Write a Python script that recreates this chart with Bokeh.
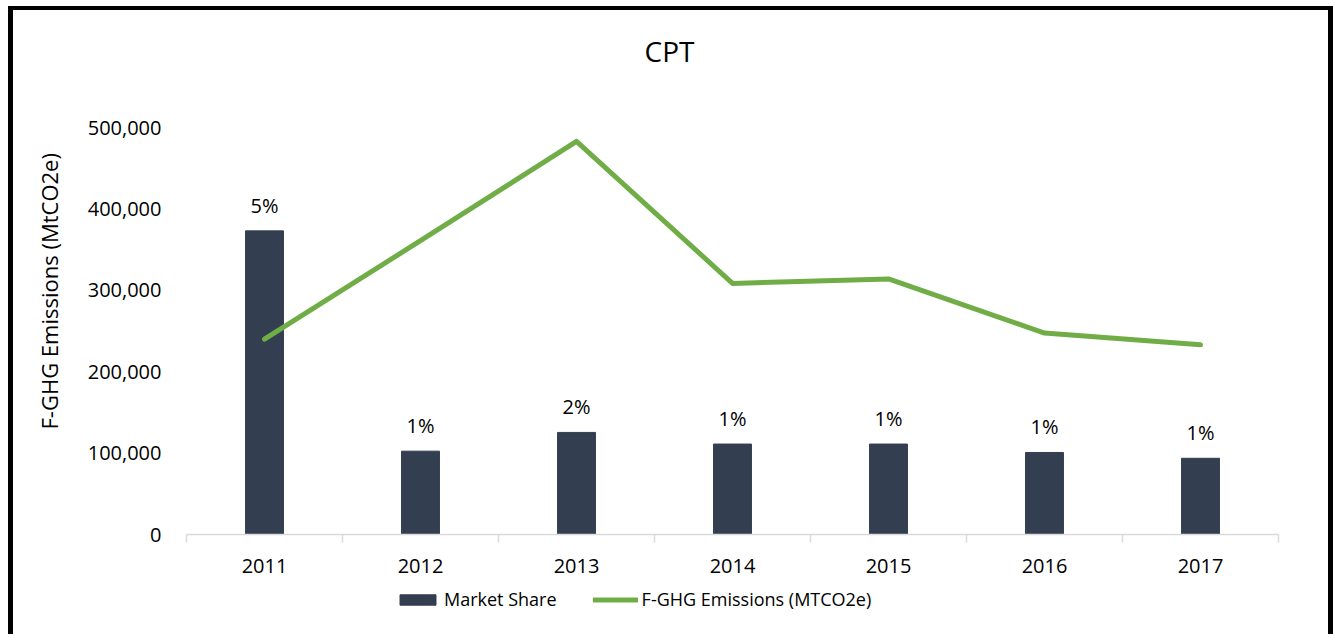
from bokeh.plotting import figure
from bokeh.layouts import column
from bokeh.models import (Range1d, FixedTicker, ColumnDataSource, LabelSet, Label, Title,
                          Legend, LegendItem, NumeralTickFormatter)
from bokeh.embed import file_html
from bokeh.resources import INLINE
from bokeh.core.properties import value

# ---- data ----
years = ["2011", "2012", "2013", "2014", "2015", "2016", "2017"]
market_share_pct = [4.70, 1.29, 1.58, 1.40, 1.40, 1.27, 1.18]
emissions = [240000, 361000, 483000, 308500, 314000, 247500, 233000]
y_ticks = [0, 100000, 200000, 300000, 400000, 500000]
share_axis_max = 6.3

FONT = "Open Sans"
BAR = "#333F50"
GREEN = "#70AD47"
W = 1315
FRAME_LEFT = 172

xs = [i + 0.5 for i in range(len(years))]
src = ColumnDataSource(dict(
    x=xs, year=years, share=market_share_pct, em=emissions,
    label=[f"{round(v)}%" for v in market_share_pct],
))


def blank(h):
    f = figure(width=W, height=h, output_backend="svg", toolbar_location=None,
               x_axis_type=None, y_axis_type=None,
               x_range=Range1d(0, 1), y_range=Range1d(0, 1),
               min_border=0, min_border_left=0, min_border_right=0,
               min_border_top=0, min_border_bottom=0)
    f.outline_line_color = None
    f.background_fill_color = "white"
    f.border_fill_color = "white"
    return f


# ---- title strip ----
TH = 70
tfig = blank(TH)
tfig.add_layout(Label(x=655 - FRAME_LEFT, y=TH - 40, x_units="screen", y_units="screen",
                      text="CPT", text_align="center",
                      text_baseline="middle", text_font=FONT, text_font_size="28px",
                      text_color="#000000"))

# ---- main chart ----
H1 = 504
p = figure(width=W, height=H1, output_backend="svg", toolbar_location=None,
           x_range=Range1d(0, len(years)), y_range=Range1d(0, 500000),
           min_border_left=FRAME_LEFT, min_border_right=50, min_border_top=47,
           min_border_bottom=50)
p.extra_y_ranges = {"share": Range1d(0, share_axis_max)}
p.outline_line_color = None
p.xgrid.visible = False
p.ygrid.visible = False
p.background_fill_color = "white"
p.border_fill_color = "white"

bars = p.vbar(x="x", top="share", width=0.243, source=src, y_range_name="share",
              fill_color=BAR, line_color=BAR)
line = p.line(x="x", y="em", source=src, line_color=GREEN, line_width=5,
              line_cap="round", line_join="round")

p.add_layout(LabelSet(x="x", y="share", text="label", source=src, y_range_name="share",
                      y_offset=18, text_align="center", text_baseline="alphabetic",
                      text_font=value(FONT), text_font_size="20px", text_color="#000000"))

xa = p.xaxis[0]
xa.ticker = FixedTicker(ticks=xs, minor_ticks=list(range(len(years) + 1)))
xa.major_label_overrides = {x: y for x, y in zip(xs, years)}
xa.axis_line_color = "#D9D9D9"
xa.axis_line_width = 1.5
xa.major_tick_line_color = None
xa.minor_tick_line_color = "#D9D9D9"
xa.minor_tick_line_width = 1.5
xa.minor_tick_in = 0
xa.minor_tick_out = 8
xa.major_tick_out = 0
xa.major_tick_in = 0
xa.major_label_standoff = 16
xa.major_label_text_font = FONT
xa.major_label_text_font_size = "20px"
xa.major_label_text_color = "#000000"

ya = p.yaxis[0]
ya.ticker = FixedTicker(ticks=y_ticks)
ya.formatter = NumeralTickFormatter(format="0,0")
ya.axis_line_color = None
ya.major_tick_line_color = None
ya.minor_tick_line_color = None
ya.major_tick_out = 0
ya.major_tick_in = 0
ya.major_label_standoff = 25
ya.major_label_text_font = FONT
ya.major_label_text_font_size = "20px"
ya.major_label_text_color = "#000000"

p.add_layout(Title(text="F-GHG Emissions (MtCO2e)", align="left", offset=105,
                   vertical_align="middle", standoff=39,
                   text_font=FONT, text_font_size="22px", text_font_style="normal",
                   text_color="#000000"), "left")

# ---- legend strip (proxy glyphs lie outside the visible range) ----
LH = 50
lfig = blank(LH)
lbar = lfig.vbar(x=[-5], top=[-5], bottom=[-6], width=0.1, fill_color=BAR, line_color=BAR)
lline = lfig.line(x=[-5, -4], y=[-5, -5], line_color=GREEN, line_width=5, line_cap="round")
legend = Legend(items=[LegendItem(label="Market Share", renderers=[lbar]),
                       LegendItem(label="F-GHG Emissions (MTCO2e)", renderers=[lline])],
                orientation="horizontal", location=(381 - FRAME_LEFT, 23),
                glyph_width=45, glyph_height=13, label_standoff=4, spacing=36,
                padding=0, margin=0, border_line_color=None, background_fill_alpha=0,
                label_text_font=FONT, label_text_font_size="18px",
                label_text_color="#000000")
lfig.add_layout(legend)

layout = column(tfig, p, lfig, spacing=0)
layout.styles = {"margin-left": "8px", "margin-top": "6px",
                 "border-left": "5px solid black", "border-top": "4px solid black",
                 "border-right": "5px solid black"}

open("out.html", "w").write(file_html(layout, INLINE))
